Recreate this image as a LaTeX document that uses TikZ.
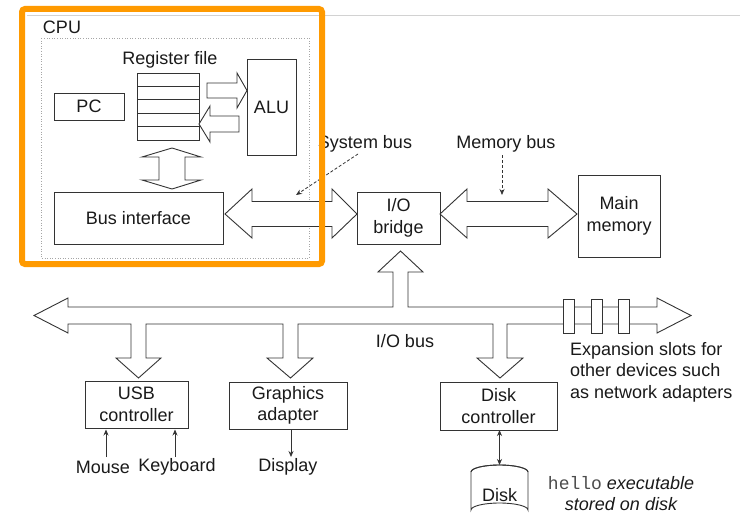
\documentclass[tikz,border=0pt]{standalone}
\usepackage{fontspec}
\setmainfont{Liberation Sans}
\newfontfamily\monof{Liberation Mono}
\usetikzlibrary{arrows.meta,calc}
\definecolor{ln}{HTML}{333333}
\definecolor{txt}{HTML}{1A1A1A}
\definecolor{orng}{HTML}{FF9A00}
\newcommand\fs{\fontsize{18}{21.5}\selectfont}
\tikzset{
  box/.style={draw=ln, line width=0.9pt, fill=white, inner sep=0pt, outer sep=0pt,
              anchor=north west, align=center, font=\fs, text=txt},
  blk/.style={draw=ln, line width=0.9pt, fill=white, line join=miter},
  lbl/.style={font=\fs, text=txt, inner sep=0pt, align=center},
  thinarrow/.style={draw=ln, line width=0.8pt, -{Stealth[length=6pt,width=5pt]}},
  dsh/.style={draw=ln, line width=0.8pt, dash pattern=on 3pt off 2pt, -{Stealth[length=6pt,width=5pt]}},
}
\begin{document}
\begin{tikzpicture}[x=1pt,y=-1pt]
\useasboundingbox[fill=white] (0,0) rectangle (751,519);
% top rule
\draw[gray!35, line width=0.8pt] (27,15) -- (740,15);

% CPU dotted box
\draw[gray!70, line width=0.6pt, dotted] (41,38) rectangle (309,258);
\node[lbl] (cpu) at (62,27) {CPU};

% Register file
\node[lbl] (rflbl) at (170,60) {Register file};
\node[box, minimum width=62, minimum height=67] (rf) at (137,73) {};
\foreach \yy in {86.4,99.8,113.2,126.6}
  \draw[ln, line width=0.9pt] (137,\yy) -- (199,\yy);

\node[box, minimum width=70, minimum height=27] (pc) at (54,93) {PC};
\node[box, minimum width=49, minimum height=96] (alu) at (247,59) {ALU};
\node[box, minimum width=169, minimum height=52] (bi) at (54,192) {Bus interface};
\node[box, minimum width=83, minimum height=52] (iob) at (357,192) {I/O\\bridge};
\node[box, minimum width=82, minimum height=82] (mm) at (578,175) {Main\\memory};

% reg -> ALU
\draw[blk] (207,83) -- (237,83) -- (237,73) -- (247,90.5) -- (237,108) -- (237,98) -- (207,98) -- cycle;
% ALU -> reg
\draw[blk] (239,116) -- (210,116) -- (210,106) -- (199,124) -- (210,142) -- (210,132) -- (239,132) -- cycle;
% reg <-> bus interface
\draw[blk] (172,148) -- (201,157) -- (185,157) -- (185,180) -- (201,180) -- (172,189)
  -- (142,180) -- (159,180) -- (159,157) -- (142,157) -- cycle;

% system bus
\draw[blk] (225,214) -- (252,189) -- (252,201.5) -- (332,201.5) -- (332,189) -- (357,214)
  -- (332,238) -- (332,226.5) -- (252,226.5) -- (252,238) -- cycle;
% memory bus
\draw[blk] (440,214) -- (467,189) -- (467,201.5) -- (548,201.5) -- (548,189) -- (577,214)
  -- (548,238) -- (548,226.5) -- (467,226.5) -- (467,238) -- cycle;

\node[lbl] (sbl) at (365,144) {System bus};
\node[lbl] (mbl) at (506,144) {Memory bus};
\coordinate (sbt) at (296,195);
\coordinate (mbt) at (502,195);
\draw[dsh] (358,154) -- (sbt);
\draw[dsh] (502,155) -- (mbt);

% I/O bus
\draw[blk] (34,315.5) -- (68,298) -- (68,307) -- (393,307) -- (393,272) -- (378,272) -- (400.5,251)
  -- (423,272) -- (408,272) -- (408,307) -- (657,307) -- (657,298) -- (691,315.5) -- (657,333)
  -- (657,324) -- (507,324) -- (507,358) -- (523,358) -- (500,378) -- (477,358) -- (493,358)
  -- (493,324) -- (298,324) -- (298,358) -- (313,358) -- (290.5,378) -- (267,358) -- (283,358)
  -- (283,324) -- (146,324) -- (146,358) -- (161,358) -- (138.5,378) -- (116,358) -- (131,358)
  -- (131,324) -- (68,324) -- (68,333) -- cycle;
\foreach \xx in {563,591,618}
  \draw[blk] (\xx,299) rectangle ++(11,34);
\node[lbl] (iobl) at (405,341) {I/O bus};
\node[lbl, anchor=west, align=left] (exp) at (570,372) {Expansion slots for\\other devices such\\as network adapters};

% controllers
\node[box, minimum width=103, minimum height=47] (usb) at (85,381) {USB\\controller};
\node[box, minimum width=118, minimum height=47] (gfx) at (229,382) {Graphics\\adapter};
\node[box, minimum width=117, minimum height=48] (dc) at (440,382) {Disk\\controller};

\node[lbl] (mouse) at (103,467) {Mouse};
\node[lbl] (kbd) at (177,467) {Keyboard};
\node[lbl] (disp) at (288,467) {Display};
\draw[thinarrow] (106,457) -- (106,429.5);
\draw[thinarrow] (175,457) -- (175,429.5);
\draw[thinarrow] (291,429.5) -- (291,457);

% disk
\draw[ln, line width=0.9pt, fill=white] (471,472) -- (471,510) arc[start angle=180, end angle=360, x radius=28.5, y radius=7]
  -- (528,472) arc[start angle=0, end angle=-180, x radius=28.5, y radius=7];
\draw[ln, line width=0.9pt] (471,472) arc[start angle=180, end angle=360, x radius=28.5, y radius=7];
\node[lbl] (disk) at (499.5,495) {Disk};
\coordinate (dtop) at (499.5,465);
\draw[ln, line width=0.8pt, {Stealth[length=6pt,width=5pt]}-{Stealth[length=6pt,width=5pt]}] (dc.south -| dtop) -- (dtop);

\node[lbl] (hello) at (621,493.5) {{\monof\color{black!70}hello} \itshape executable\\\itshape stored on disk};

% orange highlight
\draw[orng, line width=6pt, rounded corners=3pt] (22,9) rectangle (322,264);
\end{tikzpicture}
\end{document}
